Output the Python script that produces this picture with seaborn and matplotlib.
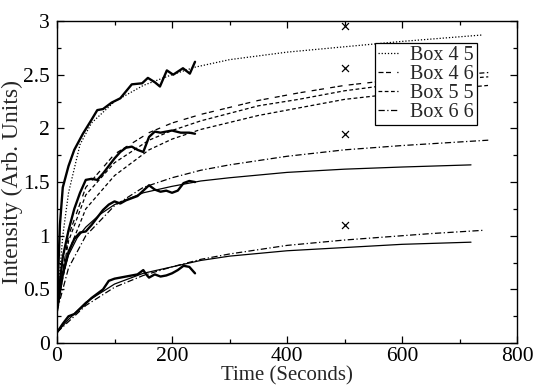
import numpy as np
import pandas as pd
import matplotlib
matplotlib.use('Agg')
import matplotlib.pyplot as plt
from matplotlib.ticker import MultipleLocator, FuncFormatter
import seaborn as sns

# measured data (thick jagged curves)
t1 = [0, 5, 10, 20, 30, 45, 60, 70, 80, 95, 110, 130, 148, 158, 170, 179, 191, 202, 219, 231, 240]
y1 = [0.35, 1.1, 1.45, 1.65, 1.8, 1.95, 2.08, 2.17, 2.18, 2.24, 2.28, 2.41, 2.42, 2.47, 2.43, 2.39, 2.54, 2.50, 2.56, 2.51, 2.62]

t2 = [0, 10, 20, 30, 40, 50, 60, 70, 80, 90, 100, 110, 120, 130, 140, 150, 160, 170, 180, 190, 200, 215, 230, 240]
y2 = [0.35, 0.8, 1.05, 1.25, 1.4, 1.52, 1.53, 1.52, 1.58, 1.65, 1.72, 1.78, 1.82, 1.83, 1.80, 1.78, 1.92, 1.97, 1.96, 1.97, 1.98, 1.96, 1.96, 1.95]

t3 = [0, 10, 20, 30, 40, 50, 60, 70, 80, 90, 100, 110, 120, 130, 140, 150, 160, 170, 180, 190, 200, 210, 220, 230, 240]
y3 = [0.3, 0.65, 0.85, 0.97, 1.03, 1.04, 1.10, 1.17, 1.24, 1.29, 1.32, 1.30, 1.33, 1.35, 1.37, 1.42, 1.47, 1.43, 1.41, 1.42, 1.40, 1.42, 1.49, 1.51, 1.50]

t4 = [0, 10, 20, 30, 40, 50, 60, 70, 80, 90, 100, 110, 120, 130, 140, 150, 155, 160, 170, 180, 190, 200, 210, 220, 230, 240]
y4 = [0.1, 0.18, 0.25, 0.27, 0.32, 0.37, 0.42, 0.46, 0.50, 0.58, 0.60, 0.61, 0.62, 0.63, 0.64, 0.68, 0.64, 0.61, 0.64, 0.62, 0.63, 0.65, 0.68, 0.72, 0.71, 0.65]

# fitted curves
f1_t = [0, 10, 20, 40, 60, 100, 150, 200, 240, 300, 400, 500, 600, 740]
f1_y = [0.35, 1.0, 1.4, 1.85, 2.05, 2.25, 2.40, 2.50, 2.57, 2.64, 2.71, 2.76, 2.81, 2.87]

f2_t = [0, 20, 50, 100, 160, 200, 250, 350, 420, 500, 600, 750]
f2a_y = [0.35, 1.0, 1.45, 1.76, 1.96, 2.05, 2.13, 2.26, 2.33, 2.40, 2.46, 2.52]
f2b_y = [0.35, 0.95, 1.38, 1.68, 1.89, 1.98, 2.07, 2.21, 2.27, 2.35, 2.42, 2.48]
f2c_y = [0.35, 0.85, 1.25, 1.56, 1.80, 1.90, 1.99, 2.12, 2.19, 2.27, 2.33, 2.40]

f3s_t = [0, 10, 20, 35, 50, 75, 100, 150, 200, 250, 300, 400, 500, 600, 720]
f3s_y = [0.3, 0.62, 0.82, 0.98, 1.08, 1.2, 1.29, 1.40, 1.46, 1.51, 1.54, 1.59, 1.62, 1.64, 1.66]
f3d_t = [0, 20, 50, 100, 150, 200, 250, 300, 400, 500, 600, 750]
f3d_y = [0.3, 0.7, 1.0, 1.28, 1.45, 1.54, 1.61, 1.66, 1.74, 1.80, 1.84, 1.89]

f4s_t = [0, 20, 50, 100, 150, 200, 250, 300, 400, 500, 600, 720]
f4s_y = [0.1, 0.22, 0.38, 0.55, 0.65, 0.71, 0.77, 0.81, 0.86, 0.89, 0.92, 0.94]
f4d_t = [0, 20, 50, 100, 150, 200, 250, 300, 400, 500, 650, 740]
f4d_y = [0.1, 0.2, 0.35, 0.52, 0.63, 0.71, 0.78, 0.83, 0.91, 0.96, 1.02, 1.05]

# crosses at t = 500
cx = [500, 500, 500, 500]
cy = [2.95, 2.56, 1.95, 1.1]

sns.set_style('ticks')
plt.rcParams['font.family'] = ['Liberation Serif', 'DejaVu Serif']

fig = plt.figure(figsize=(5.33, 3.89), dpi=100)
ax = fig.add_axes([0.107, 0.118, 0.863, 0.828])

dot = (0, (1, 1.5))
dash46 = (0, (4, 2, 4, 5))
dash55 = (0, (3, 2))
dashdot = (0, (5, 2, 1, 2))
thin = 0.9

sns.lineplot(x=f1_t, y=f1_y, ax=ax, color='black', lw=thin, linestyle=dot, label='Box 4 5')
sns.lineplot(x=f2_t, y=f2a_y, ax=ax, color='black', lw=thin, linestyle=dash46, label='Box 4 6')
sns.lineplot(x=f2_t, y=f2b_y, ax=ax, color='black', lw=thin, linestyle=dash55, label='Box 5 5')
sns.lineplot(x=f3d_t, y=f3d_y, ax=ax, color='black', lw=thin, linestyle=dashdot, label='Box 6 6')
sns.lineplot(x=f2_t, y=f2c_y, ax=ax, color='black', lw=thin, linestyle=dash55)
sns.lineplot(x=f4d_t, y=f4d_y, ax=ax, color='black', lw=thin, linestyle=dashdot)
sns.lineplot(x=f3s_t, y=f3s_y, ax=ax, color='black', lw=thin)
sns.lineplot(x=f4s_t, y=f4s_y, ax=ax, color='black', lw=thin)

for t, y in [(t1, y1), (t2, y2), (t3, y3), (t4, y4)]:
    sns.lineplot(x=t, y=y, ax=ax, color='black', lw=1.7, sort=False)

sns.scatterplot(x=cx, y=cy, ax=ax, marker='x', color='black', s=25, linewidth=0.9)

ax.set_xlim(0, 800)
ax.set_ylim(0, 3)
ax.xaxis.set_major_locator(MultipleLocator(200))
ax.xaxis.set_minor_locator(MultipleLocator(100))
ax.yaxis.set_major_locator(MultipleLocator(0.5))
ax.yaxis.set_minor_locator(MultipleLocator(0.25))
ax.yaxis.set_major_formatter(FuncFormatter(lambda v, p: '%g' % v))
ax.tick_params(which='both', direction='in', top=True, right=True, labelsize=15.5, colors='black')
ax.tick_params(which='major', length=5, width=0.9)
ax.tick_params(axis='y', which='major', pad=5)
ax.tick_params(axis='x', which='major', pad=3)
ax.tick_params(which='minor', length=3, width=0.9)
for s in ax.spines.values():
    s.set_linewidth(1.0)
    s.set_color('black')

ax.set_xlabel('Time (Seconds)', fontsize=15, labelpad=0)
ax.set_ylabel('Intensity (Arb. Units)', fontsize=17, labelpad=0)

leg = ax.legend(loc='upper right', bbox_to_anchor=(0.913, 0.932), borderaxespad=0,
                fontsize=14.5, handlelength=1.0, handletextpad=0.6, borderpad=0.15,
                labelspacing=0.0, fancybox=False, framealpha=1, edgecolor='black')
leg.get_frame().set_linewidth(0.9)

fig.savefig('out.png', dpi=100)
